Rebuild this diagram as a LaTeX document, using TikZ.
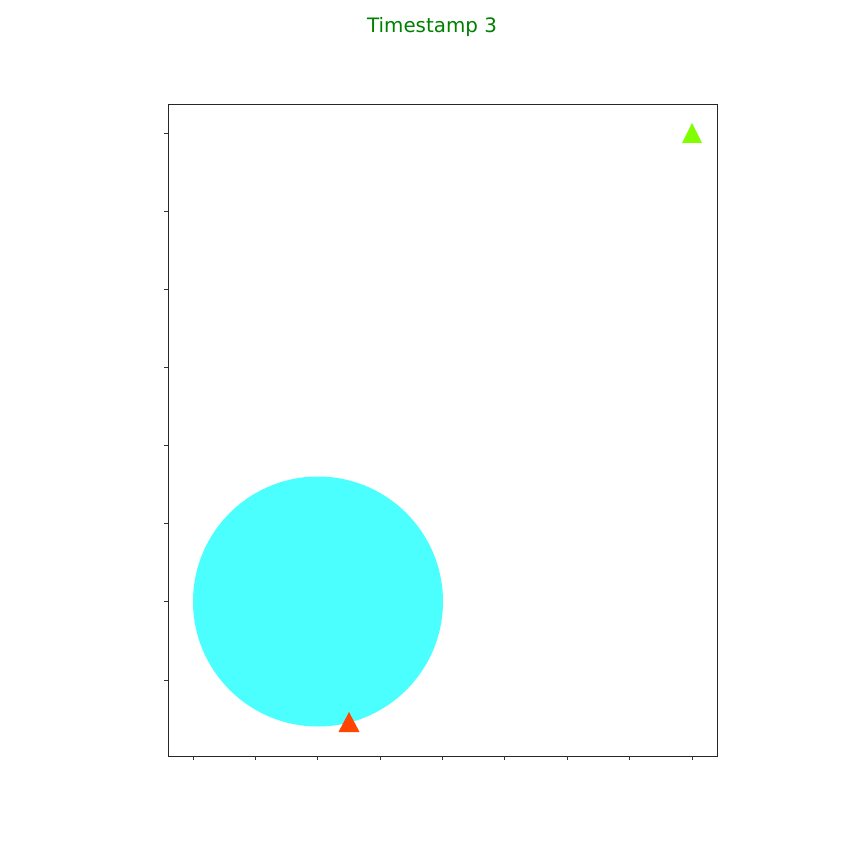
\documentclass[tikz,border=0pt]{standalone}
\usepackage{fontspec}
\setmainfont{DejaVu Sans}
\usepackage{xcolor}
\usepackage{tikz}
\definecolor{titlegreen}{RGB}{0,128,0}
\definecolor{blobcyan}{RGB}{76,255,255}
\definecolor{markred}{RGB}{255,69,0}
\definecolor{markgreen}{RGB}{127,255,0}
\tikzset{
    axisline/.style={line width=0.55pt, draw=black!85},
    tickmark/.style={line width=0.45pt, draw=black!80},
    marker/.style={draw=none}
}

\begin{document}
\begin{tikzpicture}[x=0.02cm,y=-0.02cm]
    % Page size
    \useasboundingbox (0,0) rectangle (864,864);
    % Title
    \node[text=titlegreen, font=\fontsize{11.3}{13}\selectfont] (title) at (432,27.5) {Timestamp 3};
    % Circle
    \fill[blobcyan] (318,601.5) circle (125);
    % Markers
    \fill[marker, markred] (338.5,732) -- (359.5,732) -- (349,712) -- cycle;
    \fill[marker, markgreen] (682,143) -- (702,143) -- (692,123) -- cycle;
    % Axes box
    \draw[axisline] (168,104) rectangle (717,756);
    % Ticks on x axis
    \foreach \i in {0,...,8}
        \draw[tickmark] ({193+62.375*\i},756) -- ({193+62.375*\i},760);
    % Ticks on y axis
    \foreach \i in {0,...,7}
        \draw[tickmark] (168,{133+78.14*\i}) -- (164,{133+78.14*\i});
\end{tikzpicture}
\end{document}
